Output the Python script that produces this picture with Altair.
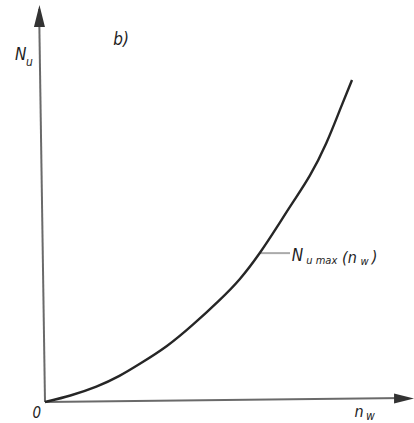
import altair as alt
import pandas as pd

# Characteristic N_u max as a function of n_w (arbitrary units)
nw = [0, 0.68, 1.41, 2.03, 2.57, 3.31, 4.01, 4.74, 5.28, 5.83, 6.29, 6.72, 7.18, 7.64, 7.99, 8.32]
nu = [0, 0.15, 0.38, 0.65, 0.96, 1.39, 1.94, 2.57, 3.07, 3.75, 4.41, 5.04, 5.67, 6.52, 7.36, 8.11]

# Hand-drawn style axes (slightly skewed) and arrow heads
axis_x0 = [0, 0]
axis_y0 = [0, 0]
axis_x1 = [-0.16, 9.75]
axis_y1 = [9.9, 0.1]

arrow_x = [-0.15, 9.73]
arrow_y = [9.72, 0.09]
arrow_shape = ["M0,-1L0.5,1L-0.5,1Z", "M1,0L-1,-0.5L-1,0.5Z"]
arrow_size = [484, 400]

# Leader line to the curve label
leader_x = [5.83, 6.64]
leader_y = [3.75, 3.75]

# Text pieces (main letters and subscripts)
label_text = ["N", "u", "b)", "N", "u max", "(n", "w", ")", "0", "n", "w"]
label_x = [-0.66, -0.42, 2.06, 6.84, 7.50, 8.25, 8.66, 8.93, -0.22, 8.51, 8.82]
label_y = [8.74, 8.56, 9.12, 3.68, 3.56, 3.63, 3.53, 3.66, -0.28, -0.25, -0.36]
label_size = [17, 12, 17, 17, 11, 16, 11, 16, 15, 16, 12]

xs = alt.Scale(domain=[0, 10], nice=False, zero=False)
ys = alt.Scale(domain=[0, 10], nice=False, zero=False)

curve_df = pd.DataFrame({"nw": nw, "nu": nu})
axes_df = pd.DataFrame({"x": axis_x0, "y": axis_y0, "x2": axis_x1, "y2": axis_y1})
arrow_df = pd.DataFrame({"x": arrow_x, "y": arrow_y, "shape": arrow_shape, "size": arrow_size})
leader_df = pd.DataFrame({"x": leader_x, "y": leader_y})
label_df = pd.DataFrame({"t": label_text, "x": label_x, "y": label_y, "fs": label_size})

axes = alt.Chart(axes_df).mark_rule(color="#6a6a6a", strokeWidth=2).encode(
    x=alt.X("x:Q", scale=xs, axis=None),
    y=alt.Y("y:Q", scale=ys, axis=None),
    x2="x2:Q",
    y2="y2:Q",
)

arrows = alt.Chart(arrow_df).mark_point(filled=True, color="#333333", opacity=1).encode(
    x=alt.X("x:Q", scale=xs, axis=None),
    y=alt.Y("y:Q", scale=ys, axis=None),
    shape=alt.Shape("shape:N", scale=None, legend=None),
    size=alt.Size("size:Q", scale=None, legend=None),
)

curve = alt.Chart(curve_df).mark_line(
    color="#262626", strokeWidth=2.4, interpolate="basis"
).encode(
    x=alt.X("nw:Q", scale=xs, axis=None),
    y=alt.Y("nu:Q", scale=ys, axis=None),
)

leader = alt.Chart(leader_df).mark_line(color="#aaaaaa", strokeWidth=2).encode(
    x=alt.X("x:Q", scale=xs, axis=None),
    y=alt.Y("y:Q", scale=ys, axis=None),
)

labels = alt.Chart(label_df).mark_text(
    font="Liberation Sans Narrow, DejaVu Sans Condensed, Liberation Sans",
    fontStyle="italic",
    color="#1e1e1e",
    align="center",
    baseline="middle",
).encode(
    x=alt.X("x:Q", scale=xs, axis=None),
    y=alt.Y("y:Q", scale=ys, axis=None),
    text="t:N",
    size=alt.Size("fs:Q", scale=None, legend=None),
)

chart = (
    alt.layer(axes, leader, curve, arrows, labels)
    .properties(
        width=369,
        height=397,
        autosize=alt.AutoSizeParams(type="none"),
        padding={"left": 45, "top": 5, "right": 0, "bottom": 21},
        background="white",
    )
    .configure_view(stroke=None)
)

chart.save("out.html", embed_options={"renderer": "svg", "actions": False})
